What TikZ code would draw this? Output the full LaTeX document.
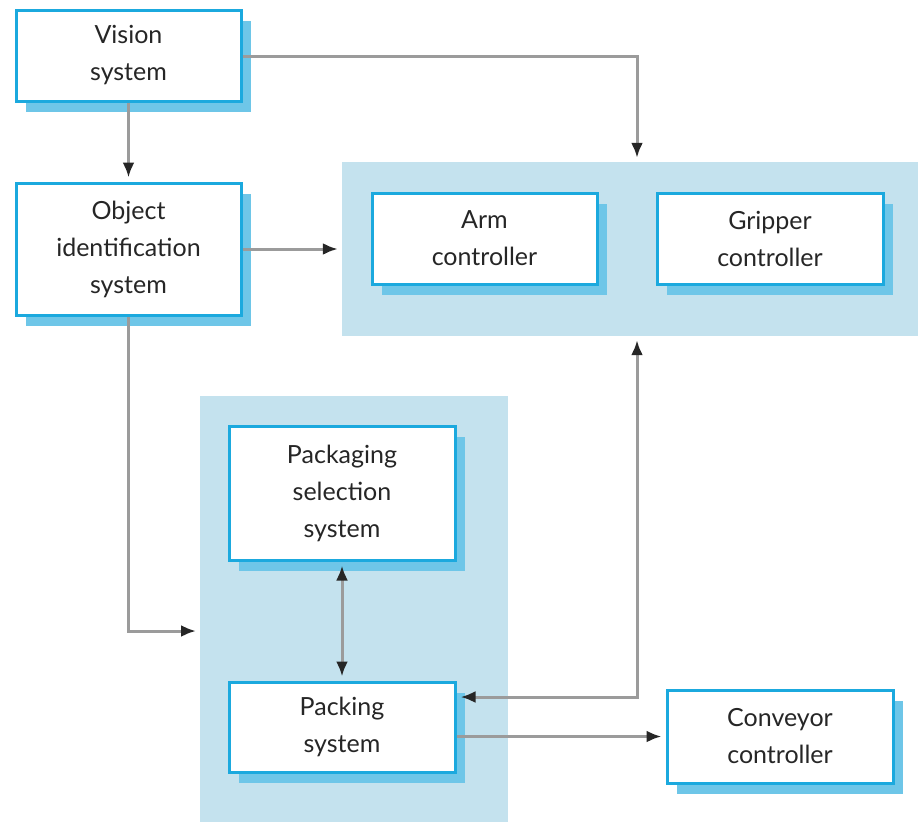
\documentclass[tikz,border=0pt]{standalone}
\usepackage{fontspec}
\setmainfont{Lato}
\usetikzlibrary{arrows.meta,shadows}
\definecolor{boxblue}{RGB}{27,169,222}
\definecolor{shadeblue}{RGB}{110,198,232}
\definecolor{groupblue}{RGB}{196,226,238}
\definecolor{linegray}{RGB}{155,155,155}
\begin{document}
\begin{tikzpicture}[
        x=1pt, y=-1pt,
        font=\fontsize{25}{37}\selectfont,
        box/.style={draw=boxblue, line width=3pt, fill=white, text=black!85,
            align=center, inner sep=0pt,
            drop shadow={shadow xshift=10pt, shadow yshift=-11pt, fill=shadeblue, opacity=1}},
        group/.style={fill=groupblue, draw=none, inner sep=0pt},
        tip/.style={Latex[length=15pt, width=12pt, color=black!85]},
        flow/.style={draw=linegray, line width=3pt, -{Latex[length=15pt, width=12pt, color=black!85]}, shorten >=4pt},
        flowboth/.style={flow, {Latex[length=15pt, width=12pt, color=black!85]}-{Latex[length=15pt, width=12pt, color=black!85]}, shorten <=4pt}
    ]
        \useasboundingbox (0,0) rectangle (918,822);

        % --- グループ ---
        \node[group, minimum width=576pt, minimum height=174pt] (ctrlgrp) at (630,249) {};
        \node[group, minimum width=308pt, minimum height=426pt] (pkggrp) at (354,609) {};

        % --- 接続点 ---
        \coordinate (armtap) at (637,56);
        \coordinate (pkgin) at (200,631);
        \coordinate (armret) at (637,697);

        % --- ボックス ---
        \node[box, minimum width=225pt, minimum height=91pt] (vision) at (128.5,55.5) {Vision\\system};
        \node[box, minimum width=225pt, minimum height=132pt] (objid) at (128.5,249) {Object\\identification\\system};
        \node[box, minimum width=225pt, minimum height=91pt] (arm) at (484.5,238.5) {Arm\\controller};
        \node[box, minimum width=226pt, minimum height=91pt] (grip) at (770,238.5) {Gripper\\controller};
        \node[box, minimum width=226pt, minimum height=134pt] (pkgsel) at (342,493) {Packaging\\selection\\system};
        \node[box, minimum width=226pt, minimum height=90pt] (packing) at (342,727) {Packing\\system};
        \node[box, minimum width=226pt, minimum height=93pt] (conveyor) at (780,736.5) {Conveyor\\controller};

        % --- 矢印 ---
        \draw[flow] (vision.east |- armtap) -- (armtap) -- (armtap |- ctrlgrp.north);
        \draw[flow] (vision) -- (objid);
        \draw[flow] (objid.east) -- (ctrlgrp.west |- objid.east);
        \draw[flow] (objid.south) |- (pkgin);
        \draw[flowboth] (pkgsel) -- (packing);
        \draw[flowboth] (armret |- ctrlgrp.south) -- (armret) -- (packing.east |- armret);
        \draw[flow] (packing.east |- conveyor.west) -- (conveyor.west);

    \end{tikzpicture}
\end{document}
